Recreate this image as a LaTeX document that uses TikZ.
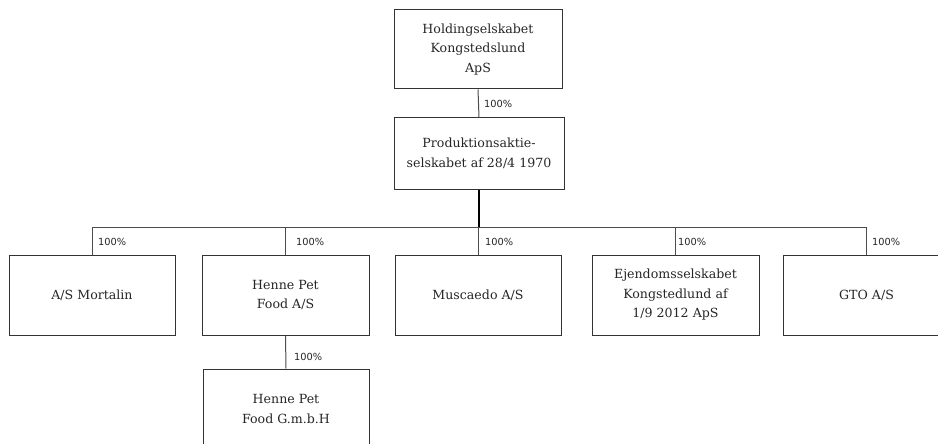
\documentclass[tikz,border=0pt]{standalone}
\usepackage{fontspec}
\setmainfont{DejaVu Serif}
\newfontfamily\pctfont{DejaVu Sans}
\begin{document}
\begin{tikzpicture}[x=1pt,y=-1pt,
  entity/.style={draw=black!80, line width=1pt, fill=white, align=center,
    inner sep=0pt, font=\fontsize{12.6}{19.5}\selectfont, text=black!85},
  link/.style={draw=black!70, line width=1pt},
  trunk/.style={draw=black, line width=1.7pt},
  pct/.style={anchor=west, inner sep=0pt, font=\pctfont\fontsize{9.8}{11}\selectfont, text=black!85}]
\clip (0,0) rectangle (938,444);
\fill[white] (0,0) rectangle (938,444);
\node[entity, minimum width=168pt, minimum height=79pt] (hold) at (478,49.5) {Holdingselskabet\\Kongstedslund\\ApS};
\node[entity, minimum width=170pt, minimum height=71pt] (prod) at (479,153.5) {Produktionsaktie-\\selskabet af 28/4 1970};
\node[entity, minimum width=166pt, minimum height=80pt] (mort) at (92,295) {A/S Mortalin};
\node[entity, minimum width=167pt, minimum height=80pt] (henne) at (285.5,295) {Henne Pet\\Food A/S};
\node[entity, minimum width=166pt, minimum height=80pt] (musc) at (478,295) {Muscaedo A/S};
\node[entity, minimum width=167pt, minimum height=80pt] (ejd) at (675.5,295) {Ejendomsselskabet\\Kongstedlund af\\1/9 2012 ApS};
\node[entity, minimum width=167pt, minimum height=80pt] (gto) at (866.5,295) {GTO A/S};
\node[entity, minimum width=166pt, minimum height=80pt] (gmbh) at (286,409) {Henne Pet\\Food G.m.b.H};
\coordinate (busy) at (0,227);
\draw[link] (hold.south) -- (prod.north);
\draw[trunk] (prod.south) -- (prod.south |- busy);
\draw[link] (mort.north) -- (mort.north |- busy) -- (gto.north |- busy) -- (gto.north);
\draw[link] (henne.north) -- (henne.north |- busy);
\draw[link] (musc.north) -- (musc.north |- busy);
\draw[link] (ejd.north) -- (ejd.north |- busy);
\draw[link] (henne.south) -- (gmbh.north);
\node[pct] (p0) at (484,104) {100\%};
\node[pct] (p1) at (98,242) {100\%};
\node[pct] (p2) at (296,242) {100\%};
\node[pct] (p3) at (485,242) {100\%};
\node[pct] (p4) at (678,242) {100\%};
\node[pct] (p5) at (872,242) {100\%};
\node[pct] (p6) at (294,357) {100\%};
\end{tikzpicture}
\end{document}
